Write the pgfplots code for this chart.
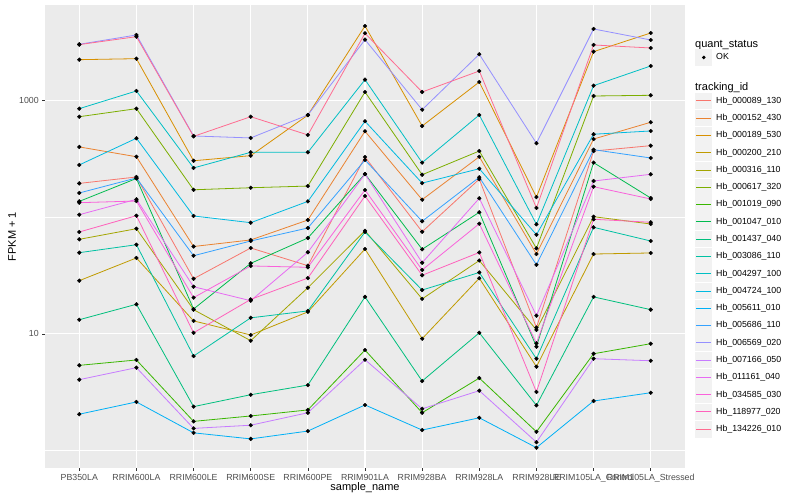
\documentclass[border=0pt]{standalone}
\usepackage{fontspec}
\setmainfont{Liberation Sans}
\usepackage{pgfplots}
\usepackage{pgfplotstable}
\pgfplotsset{compat=1.18}

% ggplot2 hue palette, 20 levels
\definecolor{c1}{HTML}{F8766D}
\definecolor{c2}{HTML}{EA8331}
\definecolor{c3}{HTML}{D89000}
\definecolor{c4}{HTML}{C09B00}
\definecolor{c5}{HTML}{A3A500}
\definecolor{c6}{HTML}{7CAE00}
\definecolor{c7}{HTML}{39B600}
\definecolor{c8}{HTML}{00BB4E}
\definecolor{c9}{HTML}{00BF7D}
\definecolor{c10}{HTML}{00C1A3}
\definecolor{c11}{HTML}{00BFC4}
\definecolor{c12}{HTML}{00BAE0}
\definecolor{c13}{HTML}{00B0F6}
\definecolor{c14}{HTML}{35A2FF}
\definecolor{c15}{HTML}{9590FF}
\definecolor{c16}{HTML}{C77CFF}
\definecolor{c17}{HTML}{E76BF3}
\definecolor{c18}{HTML}{FA62DB}
\definecolor{c19}{HTML}{FF62BC}
\definecolor{c20}{HTML}{FF6C91}
\definecolor{panel}{HTML}{EBEBEB}
\definecolor{keybg}{HTML}{F2F2F2}
\definecolor{grey30}{HTML}{4D4D4D}
\definecolor{grey20}{HTML}{333333}

% FPKM + 1, one row per sample (x = 0..10), one column per tracking_id
\pgfplotstableread{
x  s1   s2    s3   s4    s5    s6    s7   s8    s9   s10  s11  s12  s13  s14   s15  s16  s17   s18   s19   s20
0  194  398   2222 28.5  64.4  722   5.37 136   13.2 49.5 846  279  2.05 160.6 3010 4.05 104.6 132.6 74.4  2990
1  220  328   2266 44.6  79.4  846   5.97 213.6 17.9 57.9 1199 472  2.61 215.8 3615 5.13 141.7 137   102.6 3498
2  29.6 55.9  303  12.9  16.1  171   1.78 16.3  2.38 6.45 263  102  1.42 46.6  494  1.55 25.3  20.4  10.2  490
3  54.3 63.6  335  9.77  8.73  178   1.98 40.1  3.01 13.7 358  89.4 1.26 62.3  475  1.65 19.2  38.1  19.7  722
4  38.3 94.2  745  15.4  24.8  184   2.23 66.1  3.64 15.7 358  136  1.47 80.5  747  2.11 49.9  37.1  30.0  504
5  326  542   4318 53.2  76.3  1175  7.26 233.4 20.7 74.4 1498 660  2.46 307.6 3296 6.00 233   170.3 151.2 3739
6  74.8 140.6 601  9.08  19.9  230   2.11 52.9  3.94 23.7 292  195  1.50 91.9  829  2.28 40.6  35.2  31.7  1175
7  211  328   1431 29.9  42.4  367   4.18 109.7 10.2 33.5 747  259  1.91 218.8 2472 3.26 144.6 87.6  49.7  1778
8  11.3 48.2  148  5.23  10.8  53.9  1.45 7.76  2.44 6.12 86.6 70.5 1.06 39.0  428  1.18 14.3  8.29  3.18  119.4
9  367  465   2602 48.2  100.6 1086  6.75 292   20.7 81.6 1331 511  2.66 376.9 4070 6.12 203.3 181.7 95.6  2969
10 408  647   3761 49.2  87.1  1101  8.23 145.4 16.1 62.3 1963 545  3.13 320   3277 5.88 232   142.6 90.1  2798
}\fpkm

% one line per tracking_id, its legend key drawn like ggplot's (grey box, coloured stroke)
\newcommand\series[2]{%
  \addplot[color=c#1, line width=0.8pt, mark=none,
    legend image code/.code={
      \path[draw=none, fill=none] (0pt,-8.64pt) rectangle (17.28pt,8.64pt);
      \fill[keybg, draw=none] (0.3pt,-8.34pt) rectangle (16.98pt,8.34pt);
      \draw[c#1, line width=0.8pt] (1pt,0pt) -- (16.28pt,0pt);}
  ] table[x=x, y=s#1] {\fpkm};
  \addlegendentry{#2}}

\begin{document}
\begin{tikzpicture}
\path[use as bounding box] (0,0) rectangle (800pt,500pt);
\begin{axis}[
    at={(45pt,32pt)}, anchor=south west,
    scale only axis, width=640pt, height=463pt,
    ymode=log, ymin=0.71, ymax=6530,
    xmin=-0.6, xmax=10.6,
    xtick={0,...,10},
    xticklabels={PB350LA,RRIM600LA,RRIM600LE,RRIM600SE,RRIM600PE,RRIM901LA,RRIM928BA,RRIM928LA,RRIM928LE,RRIM105LA\_Control,RRIM105LA\_Stressed},
    ytick={10,1000}, yticklabels={10,1000},
    minor ytick={1,100},
    grid=both,
    major grid style={white, line width=1.07pt},
    minor grid style={white, line width=0.53pt},
    axis background/.style={fill=panel},
    axis line style={draw=none},
    tick pos=left, tick align=outside,
    major tick length=2.75pt, minor tick length=0pt,
    tick style={grey20, line width=0.5pt},
    ticklabel style={font=\fontsize{8.8}{10}\selectfont, text=grey30},
    xlabel={sample\_name}, ylabel={FPKM + 1},
    label style={font=\fontsize{11}{13}\selectfont},
    xlabel style={at={(axis description cs:0.5,-0.0432)}, anchor=center},
    ylabel style={at={(axis description cs:-0.0516,0.5)}, anchor=center},
    legend cell align=left,
    legend style={at={(axis description cs:1.0156,0.9306)}, anchor=north west,
      draw=none, fill=none, inner sep=0pt, row sep=0pt, column sep=3.7pt,
      font=\fontsize{8.8}{10}\selectfont, nodes={inner sep=0pt}},
  ]
  \addlegendimage{empty legend}
  \addlegendentry{\hspace*{-21pt}\fontsize{11}{13}\selectfont\rule[-7.4pt]{0pt}{17.4pt}quant\_status}
  \addlegendimage{legend image code/.code={
      \path[draw=none, fill=none] (0pt,-8.64pt) rectangle (17.28pt,8.64pt);
      \fill[keybg, draw=none] (0.3pt,-8.34pt) rectangle (16.98pt,8.34pt);
      \fill[black, draw=none] (8.64pt,0pt) circle (1.9pt);}}
  \addlegendentry{OK}
  \addlegendimage{empty legend}
  \addlegendentry{\hspace*{-21pt}\fontsize{11}{13}\selectfont\rule[-6.2pt]{0pt}{30.8pt}tracking\_id}

  \series{1}{Hb\_000089\_130}
  \series{2}{Hb\_000152\_430}
  \series{3}{Hb\_000189\_530}
  \series{4}{Hb\_000200\_210}
  \series{5}{Hb\_000316\_110}
  \series{6}{Hb\_000617\_320}
  \series{7}{Hb\_001019\_090}
  \series{8}{Hb\_001047\_010}
  \series{9}{Hb\_001437\_040}
  \series{10}{Hb\_003086\_110}
  \series{11}{Hb\_004297\_100}
  \series{12}{Hb\_004724\_100}
  \series{13}{Hb\_005611\_010}
  \series{14}{Hb\_005686\_110}
  \series{15}{Hb\_006569\_020}
  \series{16}{Hb\_007166\_050}
  \series{17}{Hb\_011161\_040}
  \series{18}{Hb\_034585\_030}
  \series{19}{Hb\_118977\_020}
  \series{20}{Hb\_134226\_010}

  % points on top of all lines, as ggplot draws them
  \pgfplotsinvokeforeach{1,...,20}{
    \addplot[only marks, mark=*, mark size=1.9pt, black, forget plot] table[x=x, y=s#1] {\fpkm};
  }
\end{axis}
\end{tikzpicture}
\end{document}
